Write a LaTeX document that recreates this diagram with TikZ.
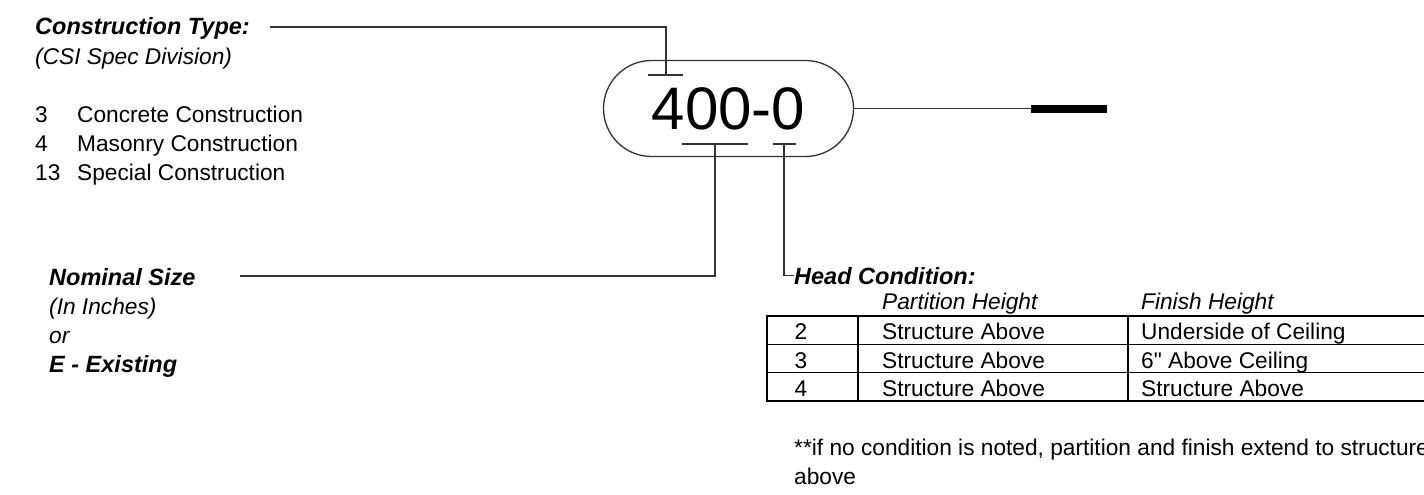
\documentclass[tikz,border=0pt]{standalone}
\usepackage{fontspec}
\setmainfont{Liberation Sans}[Ligatures=TeXOff]
\usetikzlibrary{positioning, calc}
\definecolor{leadgray}{HTML}{333333}

\begin{document}
\begin{tikzpicture}[x=1pt, y=-1pt,
    txt/.style={anchor=base west, inner sep=0pt, font=\fontsize{22.7}{26}\selectfont},
    ttl/.style={txt, font=\fontsize{23.5}{26}\selectfont\bfseries\itshape},
    sub/.style={txt, font=\fontsize{22.7}{26}\selectfont\itshape},
    lead/.style={line width=1.3pt, leadgray},
    grid/.style={line width=1.3pt}]
    \useasboundingbox (0,0) rectangle (1424,495);
    % wall tag
    \node[draw=leadgray, line width=1.3pt, rounded corners=48pt, minimum width=250pt, minimum height=96pt, inner sep=0pt, font=\fontsize{60}{60}\selectfont] (tag) at (728.5,108.5) {400-0};
    \node[fill, minimum width=76pt, minimum height=8pt, inner sep=0pt] (wall) at (1069,108.5) {};
    \draw[lead] (tag.east) -- (wall.west);
    % tee marks
    \coordinate (tA) at (666,75);
    \coordinate (tB) at (715,144);
    \coordinate (tC) at (784,144);
    \draw[lead] ([xshift=-18pt]tA) -- ([xshift=17pt]tA);
    \draw[lead] ([xshift=-33pt]tB) -- ([xshift=33pt]tB);
    \draw[lead] ([xshift=-11pt]tC) -- ([xshift=12pt]tC);
    % construction type
    \node[ttl] (ctype) at (35,35) {Construction Type:};
    \node[sub] (csi) at (35,64) {(CSI Spec Division)};
    \node[txt] (n3) at (35,122) {3};
    \node[txt] (n4) at (35,151) {4};
    \node[txt] (n13) at (35,180) {13};
    \node[txt] (d3) at (77,122) {Concrete Construction};
    \node[txt] (d4) at (77,151) {Masonry Construction};
    \node[txt] (d13) at (77,180) {Special Construction};
    \coordinate (cA) at (270,27);
    \draw[lead] (cA) -| (tA);
    % nominal size
    \node[ttl] (nsize) at (49,285) {Nominal Size};
    \node[sub] (inch) at (49,314) {(In Inches)};
    \node[sub] (orr) at (49,343) {or};
    \node[ttl] (exist) at (49,372) {E - Existing};
    \coordinate (cB) at (240,276);
    \draw[lead] (cB) -| (tB);
    % head condition
    \node[ttl] (head) at (794,284) {Head Condition:};
    \draw[lead] (tC) |- (head.west);
    \node[sub] (hpart) at (882,309) {Partition Height};
    \node[sub] (hfin) at (1141,309) {Finish Height};
    \draw[line width=1.8pt] (767,316) rectangle (1440,401);
    \draw[grid] (767,344.3) -- (1440,344.3);
    \draw[grid] (767,372.6) -- (1440,372.6);
    \draw[grid] (858,316) -- (858,401);
    \draw[grid] (1128,316) -- (1128,401);
    \foreach \y/\n/\fin in {339.5/2/Underside of Ceiling, 368/3/6" Above Ceiling, 396.5/4/Structure Above} {
        \node[txt, anchor=base] at (801,\y) {\n};
        \node[txt] at (882,\y) {Structure Above};
        \node[txt] at (1141,\y) {\fin};
    }
    % note
    \node[txt] (note1) at (794,455) {**if no condition is noted, partition and finish extend to structure};
    \node[txt] (note2) at (794,484) {above};
\end{tikzpicture}
\end{document}
